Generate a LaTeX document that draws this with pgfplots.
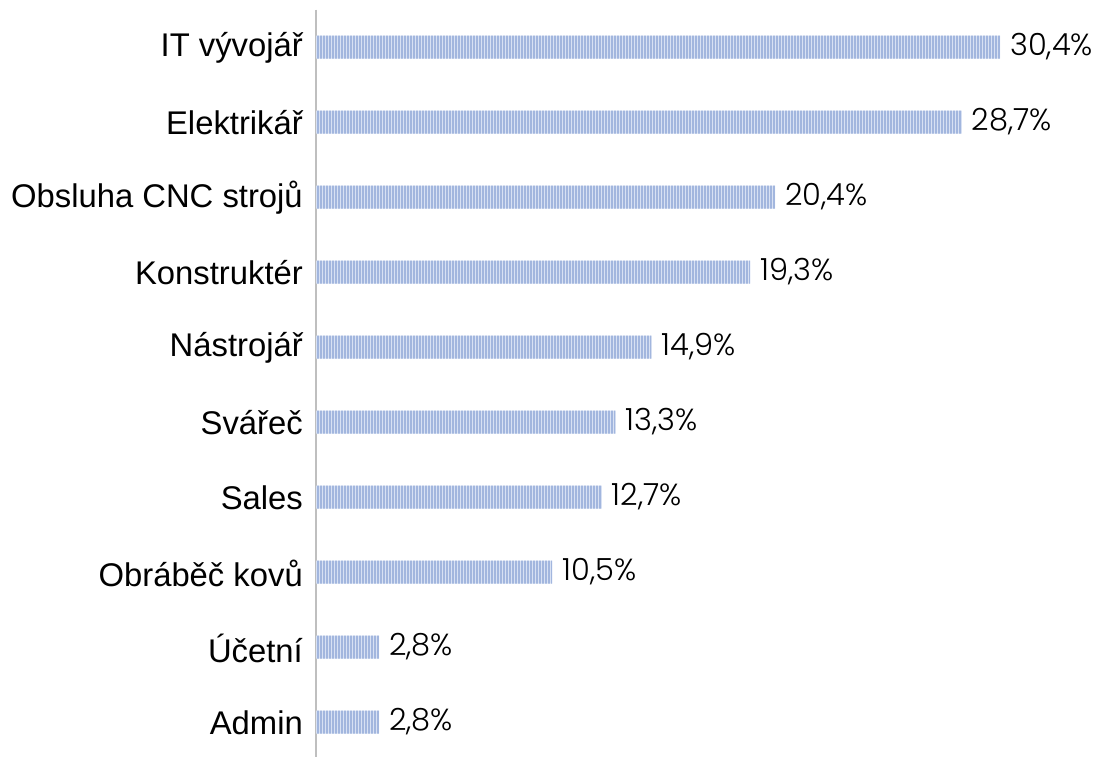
\documentclass[border=0pt]{standalone}
\usepackage{fontspec}
\setmainfont{Liberation Sans}
\newfontfamily\valfont{Poppins Light}
\usepackage{pgfplots}
\pgfplotsset{compat=1.18}
\usetikzlibrary{patterns.meta}
\definecolor{barbg}{HTML}{D8E1F3}
\definecolor{barline}{HTML}{A2B6DE}
\definecolor{axisgray}{HTML}{BFBFBF}
\begin{document}
\begin{tikzpicture}[x=1pt,y=1pt]
\path[use as bounding box] (0,0) rectangle (1100,756);
\begin{axis}[
  at={(316pt,-3.5pt)}, anchor=south west,
  scale only axis, width=787.5pt, height=750pt,
  xmin=0, xmax=35, ymin=-0.5, ymax=9.5, y dir=reverse,
  axis x line=none, axis y line*=left,
  y axis line style={draw=axisgray, line width=1.5pt, -},
  ytick={0,...,9}, major tick length=0pt,
  yticklabels={IT vývojář, Elektrikář, Obsluha CNC strojů, Konstruktér, Nástrojář, Svářeč, Sales, Obráběč kovů, Účetní, Admin},
  yticklabel style={font=\fontsize{32.8}{38}\selectfont, inner sep=0pt, anchor=east, xshift=-13pt, yshift=-1pt},
  xbar, bar width=23pt,
  nodes near coords={\pgfmathprintnumber{\pgfplotspointmeta}\%},
  nodes near coords style={font=\valfont\fontsize{30.5}{36}\selectfont, anchor=west, inner sep=0pt, xshift=10pt, text=black},
  /pgf/number format/.cd, use comma, fixed, fixed zerofill, precision=1, assume math mode=true,
]
\addplot[draw=none, fill=barbg, postaction={pattern={Lines[angle=90,distance=3pt,line width=1.4pt]}, pattern color=barline}]
  coordinates {(30.4,0) (28.7,1) (20.4,2) (19.3,3) (14.9,4) (13.3,5) (12.7,6) (10.5,7) (2.8,8) (2.8,9)};
\end{axis}
\end{tikzpicture}
\end{document}
